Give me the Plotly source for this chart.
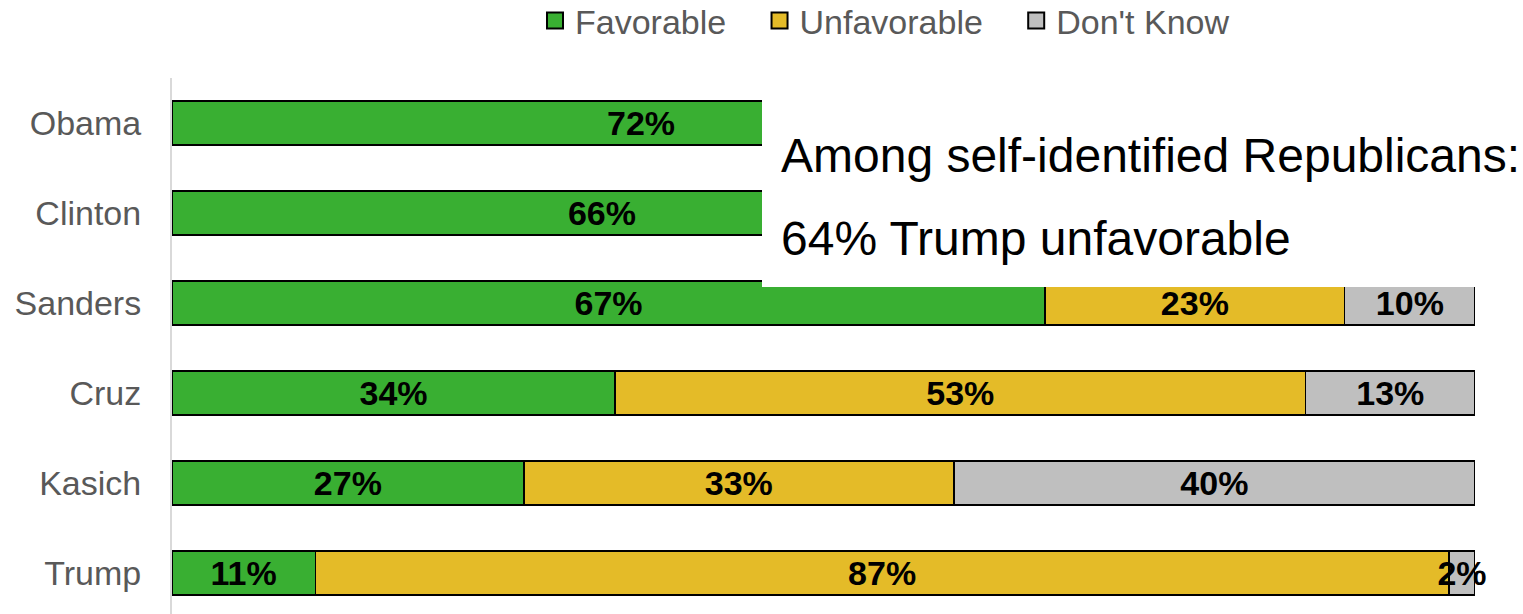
import plotly.graph_objects as go

candidates = ["Obama", "Clinton", "Sanders", "Cruz", "Kasich", "Trump"]
favorable = [72, 66, 67, 34, 27, 11]
unfavorable = [24, 30, 23, 53, 33, 87]
dont_know = [4, 4, 10, 13, 40, 2]
series_names = ["Favorable", "Unfavorable", "Don't Know"]
colors = ["#39AF32", "#E4BB28", "#BFBFBF"]
note_lines = ["Among self-identified Republicans:", "64% Trump unfavorable"]
covered_by_note = ["Obama", "Clinton"]  # segments hidden behind the note box (except Favorable)

fig = go.Figure()
for si, (name, vals, col) in enumerate(zip(series_names, [favorable, unfavorable, dont_know], colors)):
    labels = [
        "" if (si > 0 and c in covered_by_note) else f"{v}%"
        for c, v in zip(candidates, vals)
    ]
    fig.add_trace(go.Bar(
        y=candidates, x=vals, name=name, orientation="h", showlegend=False,
        marker=dict(color=col, line=dict(color="#000000", width=1.5)),
        text=labels, textposition="inside",
        insidetextanchor="middle", textangle=0, constraintext="none",
        textfont=dict(family="Liberation Sans", size=34, color="#000000", weight="bold"),
        cliponaxis=False,
    ))
# legend entries with larger square swatches
for i, (name, col) in enumerate(zip(series_names, colors)):
    pad = "\u00a0" * 3 if i < len(series_names) - 1 else ""
    fig.add_trace(go.Scatter(
        x=[None], y=[None], mode="markers", name=name + pad,
        marker=dict(symbol="square", size=16, color=col, line=dict(color="#000000", width=2)),
    ))

W, H = 1523, 614
ml, mr, mt, mb = 172, 48, 78, 0
pw, ph = W - ml - mr, H - mt - mb

def px_x(x):
    return (x - ml) / pw

def px_y(y):
    return (H - mb - y) / ph

fig.add_shape(type="rect", xref="paper", yref="paper",
              x0=px_x(762), x1=px_x(1530), y0=px_y(287), y1=px_y(88),
              fillcolor="white", line=dict(width=0), layer="above")

for line, yc in zip(note_lines, [155, 238]):
    fig.add_annotation(text=line, xref="paper", yref="paper",
                       x=px_x(779), y=px_y(yc), xanchor="left", yanchor="middle",
                       showarrow=False,
                       font=dict(family="Liberation Sans", size=48, color="#000000"))

fig.update_layout(
    width=W, height=H, barmode="stack", bargap=0.511,
    margin=dict(l=ml, r=mr, t=mt, b=mb),
    plot_bgcolor="white", paper_bgcolor="white",
    font=dict(family="Liberation Sans", color="#595959"),
    showlegend=True,
    legend=dict(orientation="h", xref="container", yref="container",
                x=885 / W, xanchor="center", y=1 - 21 / H, yanchor="middle",
                font=dict(size=34, color="#595959"), traceorder="normal"),
    xaxis=dict(range=[0, 100], showgrid=False, showticklabels=False, zeroline=False,
               showline=False, automargin=False),
    yaxis=dict(range=[5.4556, -0.5], showgrid=False, zeroline=False,
               showline=True, linecolor="#D9D9D9", linewidth=2,
               tickfont=dict(size=34, color="#595959"), ticklabelstandoff=22,
               ticks="", automargin=False),
)

fig.write_html("out.html", post_script="document.body.style.margin='0';",
               config={"displayModeBar": False})
